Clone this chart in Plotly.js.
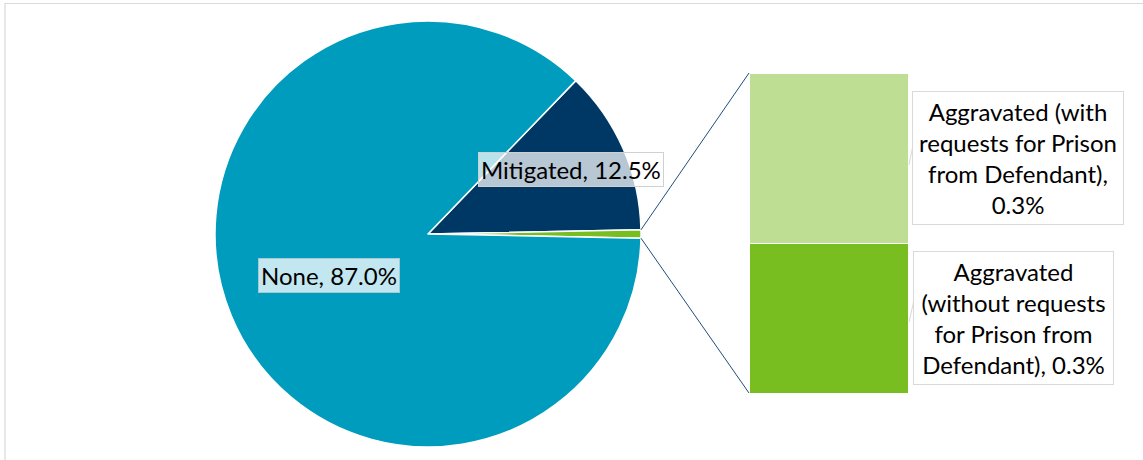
<!DOCTYPE html>
<html>
<head>
<meta charset="utf-8">
<script src="https://cdn.plot.ly/plotly-3.0.1.min.js"></script>
<style>html,body{margin:0;padding:0;background:#fff;}#chart{width:1143px;height:460px;}</style>
</head>
<body>
<div id="chart"></div>
<script>
// ---- data ----
const pieLabels = ["Mitigated", "Aggravated", "None"];
const noneValue = 87.0;
const mitigatedValue = 12.5;
const barLabels = ["Aggravated (without requests for Prison from Defendant)", "Aggravated (with requests for Prison from Defendant)"];
const barValues = [0.29, 0.33];
const barTextLabels = ["Aggravated<br>(without requests<br>for Prison from<br>Defendant), 0.3%", "Aggravated (with<br>requests for Prison<br>from Defendant),<br>0.3%"];
const pieTextLabels = ["Mitigated, 12.5%", "None, 87.0%"];

const aggTotal = barValues[0] + barValues[1];
const pieValues = [mitigatedValue, aggTotal, noneValue];
const total = pieValues.reduce((a, b) => a + b, 0);

const W = 1143, H = 460;
const font = "Lato, 'Open Sans', sans-serif";
const fs = 24;

// pie geometry
const cx = 428, cy = 234, R = 213;
const pieDomX = [(cx - R) / W, (cx + R) / W];
const pieDomY = [(H - cy - R) / H, (H - cy + R) / H];
const aggDeg = aggTotal / total * 360;
const mitDeg = mitigatedValue / total * 360;
const rotation = 90 - aggDeg / 2 - mitDeg;

// bar geometry
const barDomX = [749 / W, 908 / W];
const barDomY = [(H - 393) / H, (H - 73) / H];

const pieTrace = {
  type: "pie",
  labels: pieLabels,
  values: pieValues,
  sort: false,
  direction: "clockwise",
  rotation: rotation,
  domain: {x: pieDomX, y: pieDomY},
  marker: {colors: ["#003865", "#78BE20", "#009CBD"], line: {color: "#ffffff", width: 1.5}},
  textinfo: "none",
  hoverinfo: "label+percent",
  showlegend: false
};

const barColors = ["#78BE20", "#BEDF93"];
const barTraces = barValues.map((v, i) => ({
  type: "bar",
  x: [0],
  y: [v],
  name: barLabels[i],
  width: 1,
  marker: {color: barColors[i], line: {color: "#ffffff", width: 1}},
  xaxis: "x",
  yaxis: "y",
  showlegend: false,
  hoverinfo: "name+y"
}));

// connector lines from Aggravated slice edges to bar corners
const a1 = aggDeg / 2 * Math.PI / 180;
const p1 = {x: (cx + R * Math.cos(a1)) / W, y: (H - (cy - R * Math.sin(a1))) / H};
const p2 = {x: (cx + R * Math.cos(-a1)) / W, y: (H - (cy - R * Math.sin(-a1))) / H};

const shapes = [
  {type: "line", xref: "paper", yref: "paper", x0: p1.x, y0: p1.y, x1: barDomX[0], y1: barDomY[1], line: {color: "#1F4E79", width: 1}},
  {type: "line", xref: "paper", yref: "paper", x0: p2.x, y0: p2.y, x1: barDomX[0], y1: barDomY[0], line: {color: "#1F4E79", width: 1}},
  {type: "line", xref: "paper", yref: "paper", x0: 909 / W, y0: (H - 165) / H, x1: 914 / W, y1: (H - 140) / H, line: {color: "#D9D9D9", width: 1}},
  {type: "line", xref: "paper", yref: "paper", x0: 909 / W, y0: (H - 322) / H, x1: 914 / W, y1: (H - 300) / H, line: {color: "#D9D9D9", width: 1}},
  {type: "rect", xref: "paper", yref: "paper", x0: 5 / W, y0: -0.1, x1: 1.1, y1: (H - 3.5) / H, line: {color: "#D9D9D9", width: 1.2}, fillcolor: "rgba(0,0,0,0)"}
];

const common = {xref: "paper", yref: "paper", showarrow: false, xanchor: "center", yanchor: "middle",
  font: {family: font, size: fs, color: "#000"}};

const annotations = [
  Object.assign({}, common, {x: 329 / W, y: (H - 275) / H, text: pieTextLabels[1],
   bgcolor: "#C3E7F0", bordercolor: "#A6C9D3", borderwidth: 1, borderpad: 2}),
  Object.assign({}, common, {x: 571 / W, y: (H - 169) / H, text: pieTextLabels[0],
   bgcolor: "rgba(255,255,255,0.72)", bordercolor: "#D0D0D0", borderwidth: 1, borderpad: 2}),
  Object.assign({}, common, {x: 1018 / W, y: (H - 158) / H, text: barTextLabels[1],
   bgcolor: "#ffffff", bordercolor: "#D9D9D9", borderwidth: 1, borderpad: 3,
   width: 204, height: 126, align: "center", valign: "middle"}),
  Object.assign({}, common, {x: 1013 / W, y: (H - 318) / H, text: barTextLabels[0],
   bgcolor: "#ffffff", bordercolor: "#D9D9D9", borderwidth: 1, borderpad: 3,
   width: 193, height: 126, align: "center", valign: "middle"})
];

const layout = {
  width: W, height: H,
  margin: {l: 0, r: 0, t: 0, b: 0},
  paper_bgcolor: "#ffffff",
  plot_bgcolor: "rgba(0,0,0,0)",
  barmode: "stack",
  bargap: 0,
  xaxis: {domain: barDomX, range: [-0.5, 0.5], visible: false, fixedrange: true},
  yaxis: {domain: barDomY, range: [0, aggTotal], visible: false, fixedrange: true},
  shapes: shapes,
  annotations: annotations,
  font: {family: font},
  showlegend: false
};

Plotly.newPlot("chart", [pieTrace].concat(barTraces), layout, {displayModeBar: false, staticPlot: true});
</script>
</body>
</html>
